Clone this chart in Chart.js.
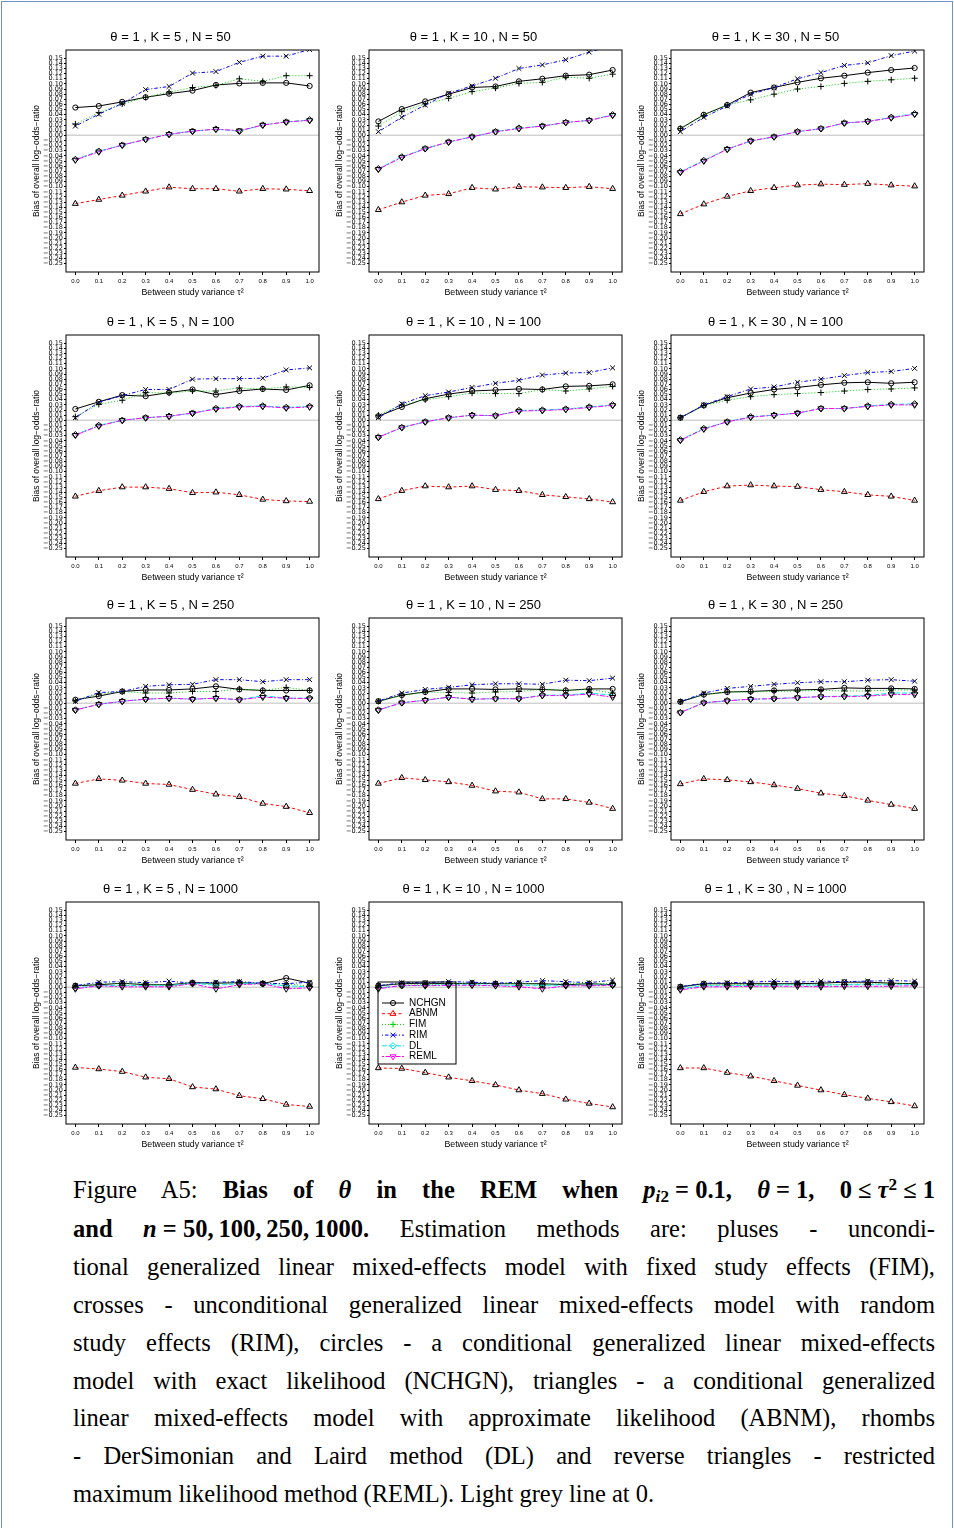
<!DOCTYPE html>
<html><head><meta charset="utf-8">
<script src="https://cdn.jsdelivr.net/npm/chart.js@4.4.1/dist/chart.umd.min.js"></script>
<style>
html,body{margin:0;padding:0;background:#fff;}
body{width:954px;height:1528px;position:relative;overflow:hidden;}
#frame{position:absolute;left:1px;top:1px;width:950px;height:1560px;border:1px solid #7391c4;border-bottom:none;}
canvas.p{position:absolute;}
.cap{position:absolute;left:73px;width:862px;height:38px;font-family:"Liberation Serif","Times New Roman",serif;font-size:24.5px;line-height:38px;text-align:justify;text-align-last:justify;color:#000;}
.cap.last{text-align-last:left;}
.cap sub{font-size:70%;vertical-align:-0.25em;line-height:0;}
.cap sup{font-size:70%;vertical-align:0.45em;line-height:0;}
</style></head><body>
<div id="frame"></div>
<div id="plots"></div>
<div class="cap" style="top:1171px">Figure A5: <b>Bias of <i>θ</i> in the REM when <i>p</i><sub><i>i</i>2</sub>&#8197;=&#8197;0.1, <i>θ</i>&#8197;=&#8197;1, 0&#8197;≤&#8197;<i>τ</i><sup>2</sup>&#8197;≤&#8197;1</b></div>
<div class="cap" style="top:1210px"><b>and <i>n</i>&#8197;=&#8197;50,&#8201;100,&#8201;250,&#8201;1000.</b> Estimation methods are: pluses - uncondi-</div>
<div class="cap" style="top:1248px">tional generalized linear mixed-effects model with fixed study effects (FIM),</div>
<div class="cap" style="top:1286px">crosses - unconditional generalized linear mixed-effects model with random</div>
<div class="cap" style="top:1324px">study effects (RIM), circles - a conditional generalized linear mixed-effects</div>
<div class="cap" style="top:1362px">model with exact likelihood (NCHGN), triangles - a conditional generalized</div>
<div class="cap" style="top:1399px">linear mixed-effects model with approximate likelihood (ABNM), rhombs</div>
<div class="cap" style="top:1437px">- DerSimonian and Laird method (DL) and reverse triangles - restricted</div>
<div class="cap last" style="top:1475px">maximum likelihood method (REML). Light grey line at 0.</div>
<script>
// ---------- categories / ticks ----------
const tau = [0.0, 0.1, 0.2, 0.3, 0.4, 0.5, 0.6, 0.7, 0.8, 0.9, 1.0];
const xTicks = [0.0, 0.1, 0.2, 0.3, 0.4, 0.5, 0.6, 0.7, 0.8, 0.9, 1.0];
const yTicks = [-0.25,-0.24,-0.23,-0.22,-0.21,-0.20,-0.19,-0.18,-0.17,-0.16,-0.15,-0.14,-0.13,-0.12,-0.11,-0.10,-0.09,-0.08,-0.07,-0.06,-0.05,-0.04,-0.03,-0.02,-0.01,0.00,0.01,0.02,0.03,0.04,0.05,0.06,0.07,0.08,0.09,0.10,0.11,0.12,0.13,0.14,0.15];
const METHODS = ['NCHGN', 'ABNM', 'FIM', 'RIM', 'DL', 'REML'];
const K_VALUES = [5, 10, 30];
const N_VALUES = [50, 100, 250, 1000];

// ---------- series values ----------
// K = 5, N = 50
const K5_N50_NCHGN = [0.054,0.057,0.065,0.074,0.081,0.087,0.098,0.101,0.102,0.102,0.096];
const K5_N50_ABNM  = [-0.133,-0.125,-0.117,-0.109,-0.101,-0.104,-0.104,-0.109,-0.104,-0.105,-0.108];
const K5_N50_FIM   = [0.022,0.044,0.061,0.074,0.084,0.093,0.097,0.110,0.105,0.116,0.116];
const K5_N50_RIM   = [0.018,0.041,0.062,0.089,0.095,0.121,0.124,0.142,0.154,0.154,0.167];
const K5_N50_DL    = [-0.047,-0.031,-0.019,-0.008,0.002,0.008,0.012,0.008,0.020,0.026,0.030];
const K5_N50_REML  = [-0.048,-0.032,-0.019,-0.008,0.002,0.008,0.012,0.009,0.020,0.026,0.029];
// K = 10, N = 50
const K10_N50_NCHGN = [0.027,0.051,0.066,0.080,0.093,0.095,0.105,0.110,0.116,0.118,0.127];
const K10_N50_ABNM  = [-0.145,-0.130,-0.117,-0.114,-0.102,-0.105,-0.100,-0.101,-0.102,-0.100,-0.104];
const K10_N50_FIM   = [0.018,0.046,0.061,0.072,0.085,0.092,0.101,0.103,0.113,0.111,0.119];
const K10_N50_RIM   = [0.007,0.035,0.059,0.082,0.096,0.111,0.130,0.137,0.147,0.162,0.174];
const K10_N50_DL    = [-0.065,-0.042,-0.026,-0.013,-0.003,0.007,0.014,0.018,0.025,0.029,0.040];
const K10_N50_REML  = [-0.066,-0.043,-0.026,-0.013,-0.003,0.007,0.013,0.018,0.025,0.029,0.039];
// K = 30, N = 50
const K30_N50_NCHGN = [0.013,0.040,0.059,0.083,0.093,0.103,0.111,0.116,0.122,0.127,0.131];
const K30_N50_ABNM  = [-0.153,-0.134,-0.119,-0.108,-0.102,-0.097,-0.095,-0.096,-0.094,-0.097,-0.099];
const K30_N50_FIM   = [0.013,0.039,0.059,0.069,0.080,0.090,0.095,0.101,0.105,0.108,0.111];
const K30_N50_RIM   = [0.007,0.035,0.057,0.080,0.093,0.110,0.122,0.136,0.141,0.155,0.164];
const K30_N50_DL    = [-0.071,-0.049,-0.027,-0.011,-0.003,0.007,0.013,0.024,0.027,0.035,0.042];
const K30_N50_REML  = [-0.072,-0.050,-0.027,-0.011,-0.003,0.007,0.013,0.024,0.027,0.034,0.041];
// K = 5, N = 100
const K5_N100_NCHGN = [0.022,0.036,0.049,0.047,0.054,0.060,0.050,0.057,0.061,0.059,0.068];
const K5_N100_ABNM  = [-0.148,-0.137,-0.130,-0.130,-0.133,-0.141,-0.140,-0.145,-0.154,-0.157,-0.158];
const K5_N100_FIM   = [0.007,0.031,0.039,0.054,0.053,0.057,0.057,0.063,0.061,0.065,0.064];
const K5_N100_RIM   = [0.005,0.035,0.048,0.060,0.060,0.080,0.081,0.081,0.082,0.098,0.102];
const K5_N100_DL    = [-0.028,-0.010,0.000,0.005,0.008,0.014,0.023,0.027,0.028,0.025,0.027];
const K5_N100_REML  = [-0.029,-0.011,0.000,0.005,0.008,0.014,0.022,0.026,0.027,0.024,0.026];
// K = 10, N = 100
const K10_N100_NCHGN = [0.008,0.026,0.042,0.051,0.057,0.059,0.061,0.060,0.066,0.067,0.070];
const K10_N100_ABNM  = [-0.153,-0.137,-0.128,-0.130,-0.128,-0.135,-0.137,-0.145,-0.149,-0.153,-0.159];
const K10_N100_FIM   = [0.010,0.030,0.040,0.046,0.053,0.052,0.052,0.060,0.057,0.061,0.066];
const K10_N100_RIM   = [0.005,0.032,0.048,0.055,0.064,0.072,0.078,0.088,0.092,0.093,0.102];
const K10_N100_DL    = [-0.033,-0.014,-0.003,0.005,0.010,0.009,0.019,0.020,0.022,0.026,0.030];
const K10_N100_REML  = [-0.033,-0.014,-0.003,0.005,0.010,0.009,0.018,0.019,0.021,0.025,0.029];
// K = 30, N = 100
const K30_N100_NCHGN = [0.005,0.029,0.044,0.053,0.060,0.064,0.069,0.073,0.074,0.072,0.074];
const K30_N100_ABNM  = [-0.156,-0.139,-0.128,-0.126,-0.128,-0.129,-0.135,-0.139,-0.145,-0.148,-0.156];
const K30_N100_FIM   = [0.005,0.029,0.039,0.046,0.050,0.052,0.054,0.057,0.060,0.061,0.063];
const K30_N100_RIM   = [0.005,0.030,0.046,0.061,0.065,0.074,0.080,0.087,0.093,0.095,0.101];
const K30_N100_DL    = [-0.038,-0.016,-0.003,0.007,0.010,0.014,0.023,0.023,0.028,0.031,0.032];
const K30_N100_REML  = [-0.039,-0.017,-0.003,0.006,0.010,0.014,0.023,0.023,0.027,0.030,0.030];
// K = 5, N = 250
const K5_N250_NCHGN = [0.007,0.014,0.023,0.026,0.026,0.028,0.033,0.027,0.025,0.025,0.025];
const K5_N250_ABNM  = [-0.156,-0.147,-0.150,-0.156,-0.158,-0.168,-0.177,-0.182,-0.195,-0.201,-0.213];
const K5_N250_FIM   = [0.005,0.018,0.023,0.020,0.020,0.023,0.023,0.028,0.025,0.031,0.025];
const K5_N250_RIM   = [0.004,0.021,0.023,0.033,0.036,0.037,0.046,0.046,0.042,0.046,0.046];
const K5_N250_DL    = [-0.013,-0.002,0.004,0.008,0.010,0.008,0.010,0.007,0.015,0.010,0.010];
const K5_N250_REML  = [-0.013,-0.002,0.004,0.008,0.010,0.008,0.010,0.007,0.012,0.010,0.009];
// K = 10, N = 250
const K10_N250_NCHGN = [0.004,0.016,0.022,0.028,0.028,0.027,0.028,0.027,0.025,0.028,0.028];
const K10_N250_ABNM  = [-0.156,-0.145,-0.149,-0.153,-0.160,-0.171,-0.173,-0.186,-0.186,-0.193,-0.205];
const K10_N250_FIM   = [0.004,0.015,0.022,0.021,0.020,0.022,0.023,0.027,0.025,0.027,0.020];
const K10_N250_RIM   = [0.004,0.020,0.027,0.031,0.036,0.038,0.038,0.037,0.045,0.044,0.049];
const K10_N250_DL    = [-0.013,0.001,0.006,0.012,0.008,0.009,0.009,0.016,0.016,0.020,0.016];
const K10_N250_REML  = [-0.013,0.001,0.006,0.012,0.008,0.009,0.009,0.015,0.015,0.018,0.012];
// K = 30, N = 250
const K30_N250_NCHGN = [0.003,0.017,0.022,0.023,0.025,0.026,0.027,0.030,0.029,0.029,0.028];
const K30_N250_ABNM  = [-0.157,-0.147,-0.149,-0.153,-0.159,-0.166,-0.175,-0.180,-0.189,-0.197,-0.205];
const K30_N250_FIM   = [0.003,0.017,0.022,0.022,0.023,0.024,0.025,0.024,0.024,0.026,0.026];
const K30_N250_RIM   = [0.003,0.020,0.029,0.033,0.037,0.040,0.042,0.042,0.045,0.046,0.043];
const K30_N250_DL    = [-0.018,0.001,0.005,0.008,0.009,0.011,0.013,0.014,0.015,0.020,0.020];
const K30_N250_REML  = [-0.018,0.001,0.005,0.008,0.009,0.011,0.013,0.013,0.014,0.017,0.017];
// K = 5, N = 1000
const K5_N1000_NCHGN = [0.003,0.005,0.008,0.005,0.005,0.009,0.008,0.009,0.007,0.018,0.008];
const K5_N1000_ABNM  = [-0.156,-0.159,-0.164,-0.175,-0.178,-0.194,-0.198,-0.211,-0.217,-0.228,-0.232];
const K5_N1000_FIM   = [0.003,0.007,0.007,0.007,0.004,0.008,0.007,0.010,0.007,0.007,0.002];
const K5_N1000_RIM   = [0.003,0.010,0.011,0.009,0.012,0.008,0.010,0.011,0.008,0.007,0.010];
const K5_N1000_DL    = [-0.001,0.003,0.004,0.003,0.003,0.008,0.004,0.007,0.007,0.003,0.001];
const K5_N1000_REML  = [-0.003,0.003,0.001,0.001,0.001,0.007,-0.003,0.005,0.007,-0.003,-0.001];
// K = 10, N = 1000
const K10_N1000_NCHGN = [0.003,0.007,0.008,0.007,0.008,0.007,0.007,0.007,0.005,0.007,0.005];
const K10_N1000_ABNM  = [-0.157,-0.158,-0.166,-0.175,-0.182,-0.190,-0.200,-0.207,-0.218,-0.226,-0.233];
const K10_N1000_FIM   = [0.003,0.007,0.005,0.007,0.008,0.007,0.008,0.005,0.008,0.007,0.008];
const K10_N1000_RIM   = [0.003,0.009,0.009,0.011,0.010,0.008,0.010,0.013,0.011,0.009,0.014];
const K10_N1000_DL    = [-0.001,0.003,0.004,0.005,0.005,0.004,0.004,0.004,0.004,0.004,0.005];
const K10_N1000_REML  = [-0.003,0.004,0.003,0.004,0.004,0.003,0.001,-0.003,0.003,0.003,0.004];
// K = 30, N = 1000
const K30_N1000_NCHGN = [0.001,0.007,0.007,0.007,0.007,0.007,0.008,0.010,0.010,0.008,0.007];
const K30_N1000_ABNM  = [-0.157,-0.157,-0.166,-0.173,-0.182,-0.191,-0.200,-0.209,-0.216,-0.223,-0.231];
const K30_N1000_FIM   = [0.001,0.005,0.005,0.005,0.006,0.005,0.005,0.006,0.007,0.007,0.008];
const K30_N1000_RIM   = [0.001,0.008,0.009,0.010,0.012,0.010,0.012,0.011,0.012,0.013,0.012];
const K30_N1000_DL    = [-0.003,0.003,0.003,0.004,0.004,0.005,0.004,0.005,0.005,0.005,0.005];
const K30_N1000_REML  = [-0.005,0.001,0.001,0.002,0.002,0.002,0.001,0.002,0.002,0.002,0.003];

// table of panels (row-major: N rows, K columns)
const PANELS = [
  [K5_N50_NCHGN, K5_N50_ABNM, K5_N50_FIM, K5_N50_RIM, K5_N50_DL, K5_N50_REML],
  [K10_N50_NCHGN, K10_N50_ABNM, K10_N50_FIM, K10_N50_RIM, K10_N50_DL, K10_N50_REML],
  [K30_N50_NCHGN, K30_N50_ABNM, K30_N50_FIM, K30_N50_RIM, K30_N50_DL, K30_N50_REML],
  [K5_N100_NCHGN, K5_N100_ABNM, K5_N100_FIM, K5_N100_RIM, K5_N100_DL, K5_N100_REML],
  [K10_N100_NCHGN, K10_N100_ABNM, K10_N100_FIM, K10_N100_RIM, K10_N100_DL, K10_N100_REML],
  [K30_N100_NCHGN, K30_N100_ABNM, K30_N100_FIM, K30_N100_RIM, K30_N100_DL, K30_N100_REML],
  [K5_N250_NCHGN, K5_N250_ABNM, K5_N250_FIM, K5_N250_RIM, K5_N250_DL, K5_N250_REML],
  [K10_N250_NCHGN, K10_N250_ABNM, K10_N250_FIM, K10_N250_RIM, K10_N250_DL, K10_N250_REML],
  [K30_N250_NCHGN, K30_N250_ABNM, K30_N250_FIM, K30_N250_RIM, K30_N250_DL, K30_N250_REML],
  [K5_N1000_NCHGN, K5_N1000_ABNM, K5_N1000_FIM, K5_N1000_RIM, K5_N1000_DL, K5_N1000_REML],
  [K10_N1000_NCHGN, K10_N1000_ABNM, K10_N1000_FIM, K10_N1000_RIM, K10_N1000_DL, K10_N1000_REML],
  [K30_N1000_NCHGN, K30_N1000_ABNM, K30_N1000_FIM, K30_N1000_RIM, K30_N1000_DL, K30_N1000_REML]
];

// ---------- styles ----------
const COLORS = ['#000000', '#ff0000', '#00cd00', '#0000ff', '#00e5ee', '#ff00ff'];
const DASHES = [[], [3, 2.5], [1, 2], [1, 2, 3.5, 2], [5, 2], [2, 1.5, 5, 1.5]];
const PSTYLE = ['circle', 'triangle', 'cross', 'crossRot', 'rectRot', 'triangle'];
const PROT = [0, 0, 0, 0, 0, 180];
const PRAD = [2.6, 3.4, 3.1, 3.4, 3.2, 3.4];

const BOX_LEFT = [66, 369, 671];
const BOX_TOP = [50, 335, 618, 902];
const AX_W = 44, TITLE_H = 26, XAX_H = 32, PAD_R = 44, BOX_W = 253, BOX_H = 222;
const SANS = '"Liberation Sans", Arial, sans-serif';

Chart.defaults.color = '#000';
Chart.defaults.font.family = SANS;

const rPlugin = {
  id: 'rframe',
  afterLayout(chart, args, o) {
    const lg = chart.legend;
    if (lg && lg.options && lg.options.display) {
      const a = chart.chartArea;
      lg.left = a.left + o.dx; lg.top = a.top + o.dy;
      lg.right = a.right; lg.bottom = a.bottom;
      lg.width = lg.right - lg.left; lg.height = lg.bottom - lg.top;
    }
  },
  beforeDatasetsDraw(chart) {
    const {ctx, chartArea: a, scales: {y}} = chart;
    const y0 = y.getPixelForValue(0);
    ctx.save();
    ctx.strokeStyle = '#d3d3d3'; ctx.lineWidth = 1.5;
    ctx.beginPath(); ctx.moveTo(a.left, y0); ctx.lineTo(a.right, y0); ctx.stroke();
    ctx.restore();
  },
  afterDraw(chart, args, o) {
    const {ctx, chartArea: a} = chart;
    ctx.save();
    ctx.strokeStyle = '#000'; ctx.lineWidth = 1;
    ctx.strokeRect(a.left, a.top, a.right - a.left, a.bottom - a.top);
    const lg = chart.legend;
    if (lg && lg.options && lg.options.display && lg.legendHitBoxes && lg.legendHitBoxes.length) {
      const hbs = lg.legendHitBoxes;
      const first = hbs[0], last = hbs[hbs.length - 1];
      ctx.strokeRect(first.left - o.padL, first.top - o.padT, o.frameW, (last.top + last.height + o.padB) - (first.top - o.padT));
      hbs.forEach((hb, i) => {
        const item = lg.legendItems[i];
        const ds = chart.data.datasets[item.datasetIndex];
        const cy = hb.top + o.fontSize / 2;
        ctx.save();
        ctx.strokeStyle = ds.borderColor; ctx.lineWidth = 1;
        ctx.setLineDash(ds.borderDash || []);
        ctx.beginPath(); ctx.moveTo(hb.left, cy); ctx.lineTo(hb.left + o.boxW, cy); ctx.stroke();
        ctx.setLineDash([]);
        ctx.fillStyle = 'rgba(0,0,0,0)';
        if (Chart.helpers && Chart.helpers.drawPoint) {
          Chart.helpers.drawPoint(ctx, {pointStyle: ds.pointStyle, rotation: ds.pointRotation || 0, radius: ds.pointRadius, borderWidth: 1}, hb.left + o.boxW / 2, cy);
        }
        ctx.restore();
      });
    }
    ctx.restore();
  }
};

const plotsDiv = document.getElementById('plots');
PANELS.forEach((series, idx) => {
  const r = Math.floor(idx / 3), c = idx % 3;
  const K = K_VALUES[c], N = N_VALUES[r];
  const cv = document.createElement('canvas');
  cv.className = 'p';
  const W = AX_W + BOX_W + PAD_R, H = TITLE_H + BOX_H + XAX_H;
  cv.width = W; cv.height = H;
  cv.style.width = W + 'px'; cv.style.height = H + 'px';
  cv.style.left = (BOX_LEFT[c] - AX_W) + 'px';
  cv.style.top = (BOX_TOP[r] - TITLE_H) + 'px';
  plotsDiv.appendChild(cv);
  const showLegend = (K === 10 && N === 1000);
  const datasets = METHODS.map((m, j) => ({
    label: m,
    data: tau.map((t, i) => ({x: t, y: series[j][i]})),
    borderColor: COLORS[j],
    backgroundColor: 'rgba(0,0,0,0)',
    borderWidth: 1,
    borderDash: DASHES[j],
    pointStyle: PSTYLE[j],
    pointRotation: PROT[j],
    pointRadius: PRAD[j],
    pointBorderColor: '#000',
    pointBackgroundColor: 'rgba(0,0,0,0)',
    pointBorderWidth: 1,
    fill: false,
    tension: 0,
    order: METHODS.length - j
  }));
  new Chart(cv, {
    type: 'line',
    data: {datasets},
    plugins: [rPlugin],
    options: {
      responsive: false,
      animation: false,
      events: [],
      devicePixelRatio: 1,
      layout: {padding: {left: 0, right: PAD_R, top: 0, bottom: 0}},
      plugins: {
        title: {display: true, text: 'θ = 1 , K = ' + K + ' , N = ' + N, color: '#000',
                font: {family: SANS, size: 13, weight: 'normal'}, padding: {top: 5.8, bottom: 4.6}},
        tooltip: {enabled: false},
        legend: {
          display: showLegend, position: 'chartArea', align: 'start',
          labels: {
            boxWidth: 22, boxHeight: 0, padding: 0.7, color: '#000',
            font: {family: SANS, size: 10},
            sort: (a, b) => a.datasetIndex - b.datasetIndex,
            generateLabels: (chart) => Chart.defaults.plugins.legend.labels.generateLabels(chart)
              .map(it => Object.assign(it, {fillStyle: 'rgba(0,0,0,0)', strokeStyle: 'rgba(0,0,0,0)', lineWidth: 0}))
          }
        },
        rframe: {dx: 12.3, dy: 95.3, padL: 4, padT: 16, padB: 2.5, frameW: 78, boxW: 22, fontSize: 10}
      },
      scales: {
        x: {
          type: 'linear', min: -0.04, max: 1.04,
          afterBuildTicks: (s) => { s.ticks = xTicks.map(v => ({value: v})); },
          afterFit: (s) => { s.height = XAX_H; },
          ticks: {callback: (v) => Number(v).toFixed(1), font: {family: SANS, size: 6}, color: '#000',
                  autoSkip: false, maxRotation: 0, minRotation: 0, padding: 3},
          grid: {display: true, drawOnChartArea: false, drawTicks: true, tickLength: 3, color: '#000', lineWidth: 1},
          border: {display: false},
          title: {display: true, text: 'Between study variance τ²', color: '#000',
                  font: {family: SANS, size: 8.8}, padding: {top: 0, bottom: 5.7}}
        },
        y: {
          type: 'linear', min: -0.266, max: 0.166,
          afterBuildTicks: (s) => { s.ticks = yTicks.map(v => ({value: v})); },
          afterFit: (s) => { s.width = AX_W; },
          ticks: {callback: (v) => (v < -1e-9 ? '\u2212' : '') + Math.abs(v).toFixed(2),
                  font: {family: '"DejaVu Sans", sans-serif', size: 6.5}, color: '#000',
                  autoSkip: false, maxRotation: 0, minRotation: 0, padding: 1},
          grid: {display: true, drawOnChartArea: false, drawTicks: true, tickLength: 2, color: '#000', lineWidth: 1},
          border: {display: false},
          title: {display: true, text: 'Bias of overall log\u2212odds\u2212ratio', color: '#000',
                  font: {family: SANS, size: 8.5}, padding: {top: 9.9, bottom: 0}}
        }
      }
    }
  });
});
</script>
</body></html>
